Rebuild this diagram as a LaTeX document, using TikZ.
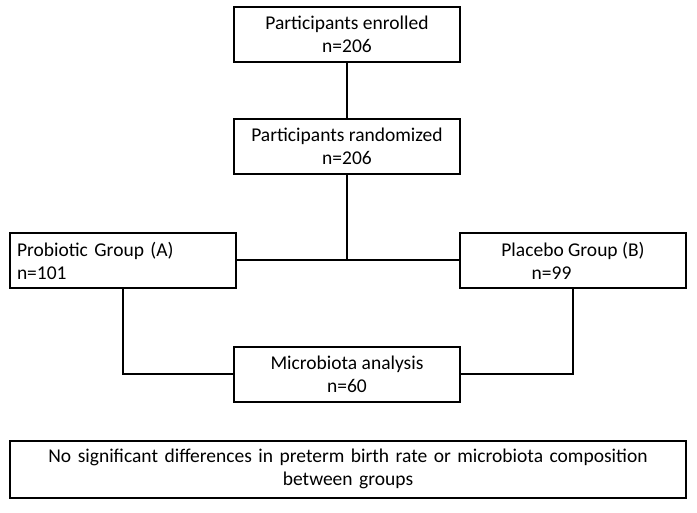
\documentclass[tikz,border=0pt]{standalone}
\usepackage{fontspec}
\setmainfont{Carlito}
\usetikzlibrary{positioning}

\begin{document}
\begin{tikzpicture}[x=1pt, y=-1pt, font=\fontsize{19.5}{23}\selectfont]
		\tikzstyle{stage} = [rectangle, minimum width=226pt, minimum height=55pt, align=center, draw=black, line width=2pt, inner sep=2pt]
		\tikzstyle{wide} = [rectangle, minimum width=676pt, minimum height=57pt, text width=666pt, align=center, draw=black, line width=2pt]
		\tikzstyle{link} = [line width=2pt]
		
		\useasboundingbox (0,0) rectangle (697,513);
		
		% Top of the flow
		\node (enrol) [stage] at (347,34.5) {Participants enrolled\\n=206};
		\node (rand) [stage] at (347,146.5) {Participants randomized\\n=206};
		
		% Groups
		\node (probio) [stage, align=left, text width=212pt] at (123,260.5) {Probiotic Group (A)\\n=101};
		\node (placebo) [stage] at (573,260.5) {Placebo Group (B)\\n=99\hspace*{2.2em}};
		
		% Analysis and result
		\node (micro) [stage] at (347,374.5) {Microbiota analysis\\n=60};
		\node (result) [wide] at (348,469) {No significant differences in preterm birth rate or microbiota composition\\between groups};
		
		% Lines
		\draw [link] (enrol) -- (rand);
		\draw [link] (rand.south) -- (rand.south |- probio.east);
		\draw [link] (probio.east) -- (placebo.west);
		\draw [link] (probio.south) |- (micro.west);
		\draw [link] (placebo.south) |- (micro.east);
		
\end{tikzpicture}
\end{document}
